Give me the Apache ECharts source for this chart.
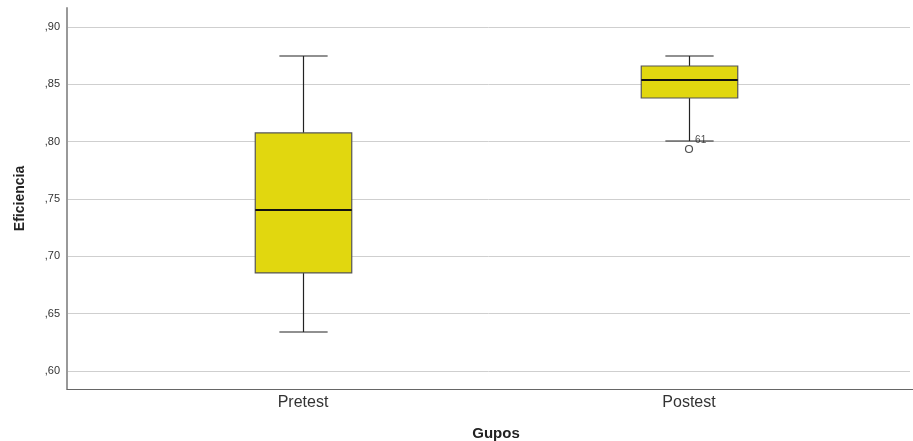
<!DOCTYPE html>
<html>
<head>
<meta charset="utf-8">
<script src="https://cdn.jsdelivr.net/npm/echarts@6/dist/echarts.min.js"></script>
<style>html,body{margin:0;padding:0;background:#fff}#c{width:913px;height:441px}</style>
</head>
<body>
<div id="c"></div>
<script>
// ---- data ----
const categories = ['Pretest', 'Postest'];
// [min whisker, Q1, median, Q3, max whisker]
const pretestStats = [0.634, 0.6855, 0.7404, 0.8076, 0.8747];
const postestStats = [0.8006, 0.8381, 0.8538, 0.866, 0.8747];
const outlierValues = [0.7936];
const outlierCategoryIndex = [1];
const outlierLabels = ['61'];
const yMin = 0.60, yMax = 0.90, yInterval = 0.05;
const xAxisTitle = 'Gupos';
const yAxisTitle = 'Eficiencia';

const boxData = [pretestStats, postestStats].map((s, i) => [i].concat(s));
const outlierData = outlierValues.map((v, i) => ({ value: [outlierCategoryIndex[i], v], name: outlierLabels[i] }));

const FONT = 'Liberation Sans, Arial, sans-serif';
const FILL = '#e1d70f';

function renderBox(params, api) {
  const x = api.value(0);
  const lo = api.coord([x, api.value(1)]);
  const q1 = api.coord([x, api.value(2)]);
  const med = api.coord([x, api.value(3)]);
  const q3 = api.coord([x, api.value(4)]);
  const hi = api.coord([x, api.value(5)]);
  const band = api.size([1, 0])[0];
  const bw = band * 0.25, cw = band * 0.125;
  const cx = Math.round(lo[0]) + 0.5;
  const ls = { stroke: '#222', lineWidth: 1.2 };
  return {
    type: 'group',
    children: [
      { type: 'line', shape: { x1: cx, y1: hi[1], x2: cx, y2: q3[1] }, style: ls },
      { type: 'line', shape: { x1: cx, y1: q1[1], x2: cx, y2: lo[1] }, style: ls },
      { type: 'line', shape: { x1: cx - cw / 2, y1: hi[1], x2: cx + cw / 2, y2: hi[1] }, style: ls },
      { type: 'line', shape: { x1: cx - cw / 2, y1: lo[1], x2: cx + cw / 2, y2: lo[1] }, style: ls },
      { type: 'rect', shape: { x: cx - bw / 2, y: q3[1], width: bw, height: q1[1] - q3[1] },
        style: { fill: FILL, stroke: '#555', lineWidth: 1.2 } },
      { type: 'line', shape: { x1: cx - bw / 2, y1: med[1], x2: cx + bw / 2, y2: med[1] },
        style: { stroke: '#111', lineWidth: 2 } }
    ]
  };
}

const chart = echarts.init(document.getElementById('c'), null, { renderer: 'canvas' });
chart.setOption({
  animation: false,
  backgroundColor: '#fff',
  textStyle: { fontFamily: FONT },
  grid: [
    { left: 67, right: 0, top: 8, bottom: 52, outerBoundsMode: 'none', containLabel: false },   // frame
    { left: 67, right: 3, top: 27, bottom: 70, outerBoundsMode: 'none', containLabel: false },  // gridlines + y labels
    { left: 110, right: 31, top: 27, bottom: 70, outerBoundsMode: 'none', containLabel: false } // data
  ],
  xAxis: [
    { gridIndex: 0, type: 'value', min: 0, max: 1,
      axisLine: { show: true, onZero: false, lineStyle: { color: '#666', width: 1 } },
      axisTick: { show: false }, axisLabel: { show: false }, splitLine: { show: false },
      name: xAxisTitle, nameLocation: 'middle', nameGap: 37,
      nameTextStyle: { fontFamily: FONT, fontWeight: 'bold', fontSize: 15, color: '#222', padding: [0, 0, 0, 12] } },
    { gridIndex: 1, type: 'value', min: 0, max: 1, show: false },
    { gridIndex: 2, type: 'category', data: categories,
      axisLine: { show: false }, axisTick: { show: false },
      axisLabel: { fontFamily: FONT, fontSize: 16, color: '#333', margin: 24 } }
  ],
  yAxis: [
    { gridIndex: 0, type: 'value', min: 0, max: 1,
      axisLine: { show: true, onZero: false, lineStyle: { color: '#999', width: 2 } },
      axisTick: { show: false }, axisLabel: { show: false }, splitLine: { show: false },
      name: yAxisTitle, nameLocation: 'middle', nameGap: 40, nameRotate: 90,
      nameTextStyle: { fontFamily: FONT, fontWeight: 'bold', fontSize: 14, color: '#222' } },
    { gridIndex: 1, type: 'value', min: yMin, max: yMax, interval: yInterval,
      axisLine: { show: false }, axisTick: { show: false },
      axisLabel: { fontFamily: FONT, fontSize: 11, color: '#333', margin: 7,
        formatter: v => ',' + v.toFixed(2).split('.')[1] },
      splitLine: { show: true, lineStyle: { color: '#cfcfcf', width: 1 } } },
    { gridIndex: 2, type: 'value', min: yMin, max: yMax, show: false }
  ],
  series: [
    { type: 'custom', xAxisIndex: 2, yAxisIndex: 2, renderItem: renderBox,
      encode: { x: 0, y: [1, 2, 3, 4, 5] }, data: boxData, z: 3 },
    { type: 'scatter', xAxisIndex: 2, yAxisIndex: 2, data: outlierData,
      symbol: 'circle', symbolSize: 7,
      itemStyle: { color: '#fff', borderColor: '#222', borderWidth: 1.2 },
      label: { show: true, formatter: p => p.name, position: 'right', offset: [-3, -9],
        fontFamily: FONT, fontSize: 10, color: '#222' }, z: 4 }
  ]
});
</script>
</body>
</html>
